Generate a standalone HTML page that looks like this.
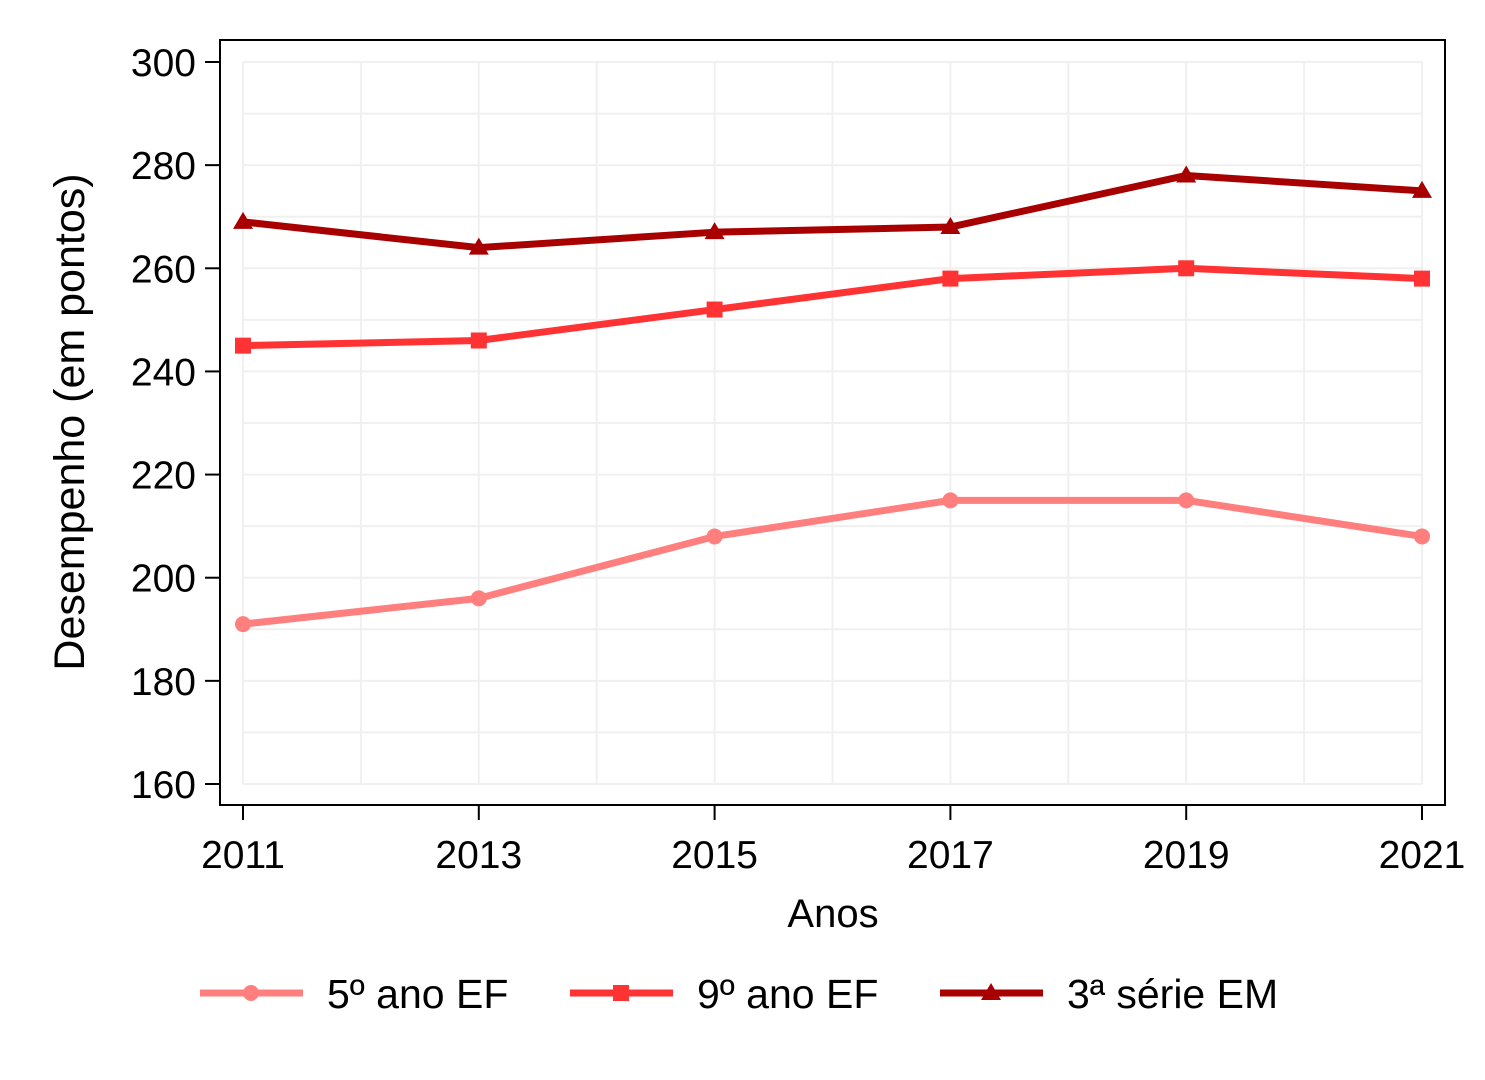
<!DOCTYPE html>
<html><head><meta charset="utf-8"><style>
html,body{margin:0;padding:0;background:#fff}
svg{display:block;font-family:"Liberation Sans",Arial,sans-serif}
</style></head><body>
<svg id="chart" width="1485" height="1080" viewBox="0 0 1485 1080">
<rect x="0" y="0" width="1485" height="1080" fill="#fff"/>
<g id="grid"></g>
<rect x="220" y="40" width="1225" height="765" fill="none" stroke="#000" stroke-width="2"/>
<g id="axes"></g>
<g id="series"></g>
<text x="833" y="927" font-size="40" text-anchor="middle">Anos</text>
<text transform="translate(84,422) rotate(-90)" font-size="43" text-anchor="middle">Desempenho (em pontos)</text>
<g id="legend"></g>
</svg>
<script>
const years = [2011, 2013, 2015, 2017, 2019, 2021];
const serie5 = [191, 196, 208, 215, 215, 208];
const serie9 = [245, 246, 252, 258, 260, 258];
const serie3 = [269, 264, 267, 268, 278, 275];
const yTicks = [160, 180, 200, 220, 240, 260, 280, 300];
const seriesNames = ["5º ano EF", "9º ano EF", "3ª série EM"];

const NS = "http://www.w3.org/2000/svg";
const xs = v => 243 + (v - 2011) * (1422 - 243) / 10;
const ys = v => 784 - (v - 160) * (784 - 62) / 140;
function mk(tag, attrs, parent) {
  const e = document.createElementNS(NS, tag);
  for (const k in attrs) e.setAttribute(k, attrs[k]);
  parent.appendChild(e);
  return e;
}
const grid = document.getElementById('grid');
for (let v = 160; v <= 300; v += 10) {
  const l = mk('line', {x1: 243, x2: 1422, y1: ys(v), y2: ys(v), stroke: '#f0f0f0', 'stroke-width': 2}, grid);
  
  
}
for (let yr = 2011; yr <= 2021; yr++) {
  const l = mk('line', {x1: xs(yr), x2: xs(yr), y1: 62, y2: 784, stroke: '#f0f0f0', 'stroke-width': 2}, grid);
  
  
}
const axes = document.getElementById('axes');
yTicks.forEach(v => {
  mk('line', {x1: 205, x2: 220, y1: ys(v), y2: ys(v), stroke: '#000', 'stroke-width': 2}, axes);
  const t = mk('text', {x: 196, y: ys(v) + 14, 'font-size': 39, 'text-anchor': 'end'}, axes);
  t.textContent = v;
  
  
});
years.forEach(v => {
  mk('line', {x1: xs(v), x2: xs(v), y1: 805, y2: 820, stroke: '#000', 'stroke-width': 2}, axes);
  const t = mk('text', {x: xs(v), y: 868, 'font-size': 39, 'text-anchor': 'middle'}, axes);
  t.textContent = v;
  
  
});
function marker(g, type, x, y, c) {
  let m;
  if (type === 'circle') m = mk('circle', {cx: x, cy: y, r: 8, fill: c}, g);
  else if (type === 'square') m = mk('rect', {x: x - 8, y: y - 8, width: 16, height: 16, fill: c}, g);
  else m = mk('polygon', {points: `${x},${y - 10} ${x - 10},${y + 7} ${x + 10},${y + 7}`, fill: c}, g);
  
  
}
const defs = [[serie5, '#ff7f7f', 'circle'], [serie9, '#ff3333', 'square'], [serie3, '#a80000', 'triangle']];
const sg = document.getElementById('series');
defs.forEach(([vals, c, type], i) => {
  const g = mk('g', {}, sg);
  
  
  const p = mk('polyline', {points: vals.map((v, j) => xs(years[j]) + ',' + ys(v)).join(' '), fill: 'none', stroke: c, 'stroke-width': 7, 'stroke-linejoin': 'round'}, g);
  
  
  vals.forEach((v, j) => marker(g, type, xs(years[j]), ys(v), c));
});
const lg = document.getElementById('legend');
const lx = [200, 570, 940];
defs.forEach(([vals, c, type], i) => {
  const g = mk('g', {}, lg);
  
  
  mk('line', {x1: lx[i], x2: lx[i] + 103, y1: 993, y2: 993, stroke: c, 'stroke-width': 7}, g);
  marker(g, type, lx[i] + 51, 993, c);
  const t = mk('text', {x: lx[i] + 127, y: 1008, 'font-size': 41}, g);
  t.textContent = seriesNames[i];
});
</script>
</body></html>
